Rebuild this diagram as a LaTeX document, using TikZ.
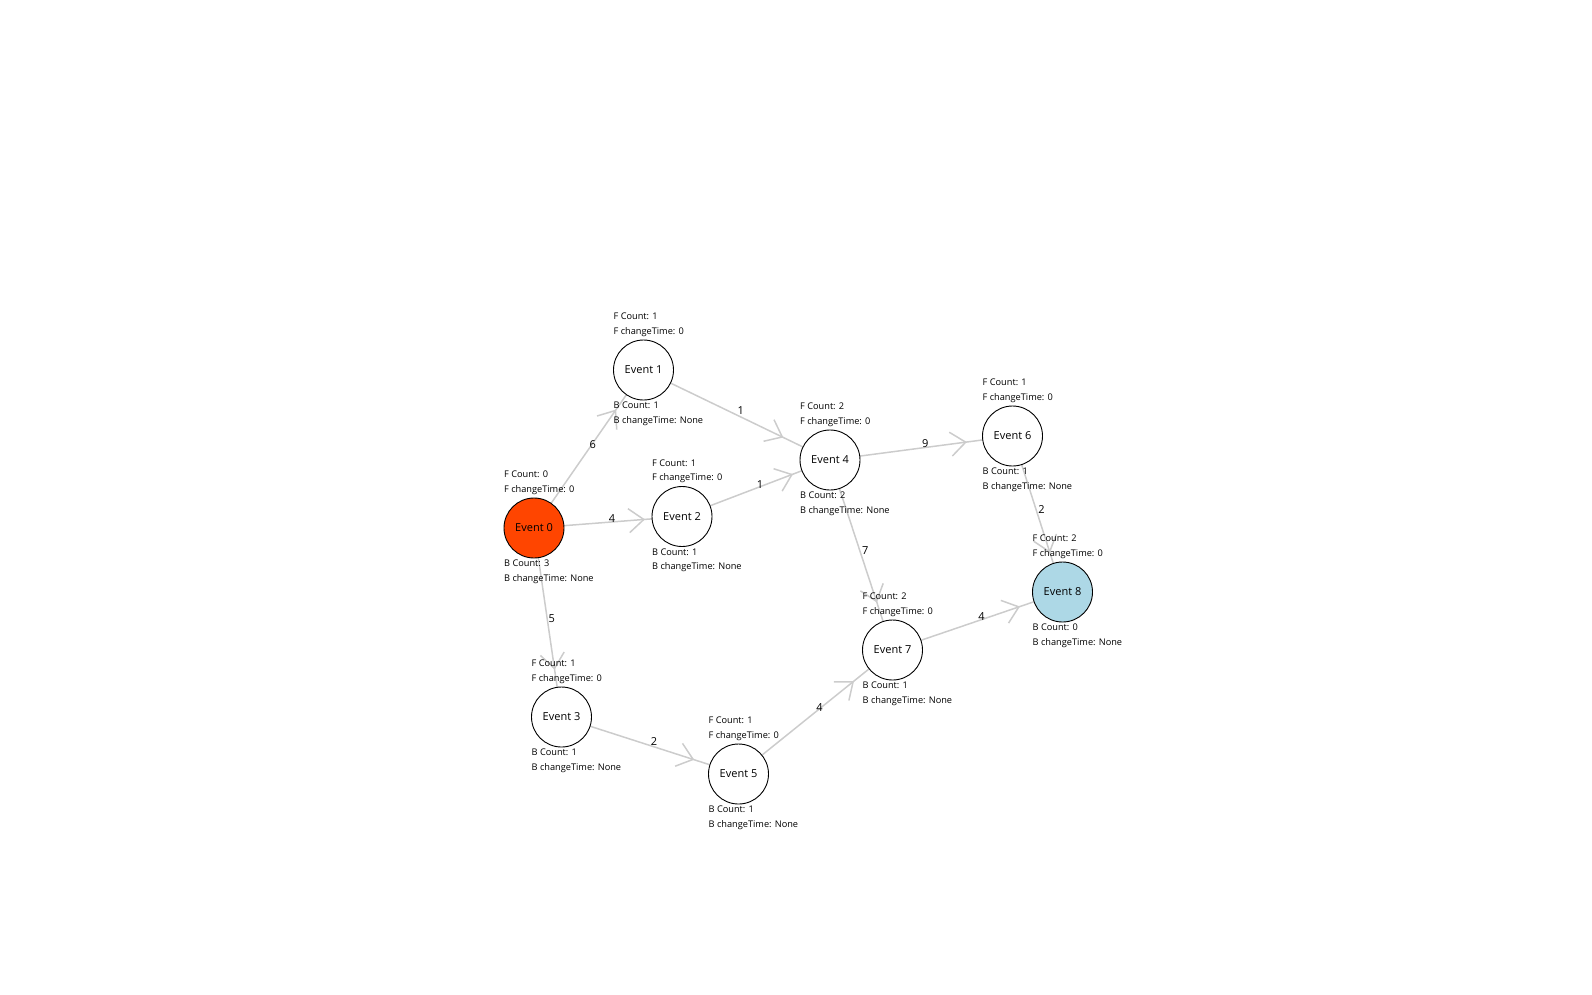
\documentclass[tikz,border=0pt]{standalone}
\usepackage{fontspec}
\setmainfont{Open Sans}
\usetikzlibrary{arrows.meta,decorations.markings,backgrounds}

\definecolor{edgegray}{HTML}{CCCCCC}
\definecolor{startred}{HTML}{FF4500}
\definecolor{endblue}{HTML}{ADD8E6}

\begin{document}
\begin{tikzpicture}[
      x=1pt, y=-1pt,
      event/.style={draw, circle, fill=white, line width=0.9pt, minimum size=60pt, inner sep=0pt, font=\fontsize{11}{12}\selectfont},
      info/.style={anchor=west, align=left, inner sep=0pt, font=\fontsize{9.2}{14.5}\selectfont},
      link/.style={draw=edgegray, line width=1.5pt, postaction={decorate},
        decoration={markings, mark=at position 0.75 with {\arrow{Straight Barb[length=15pt, width=24pt]}}}},
      weight/.style={midway, xshift=4pt, yshift=4pt, inner sep=0pt, font=\fontsize{11}{12}\selectfont}
    ]
    \useasboundingbox (0,0) rectangle (1592,994);

    % Events
    \node (ev0) [event, fill=startred] at (534,528) {Event 0};
    \node (ev1) [event] at (643.5,370) {Event 1};
    \node (ev2) [event] at (682,516.5) {Event 2};
    \node (ev3) [event] at (561.5,717) {Event 3};
    \node (ev4) [event] at (830,460) {Event 4};
    \node (ev5) [event] at (738.5,774) {Event 5};
    \node (ev6) [event] at (1012.5,436) {Event 6};
    \node (ev7) [event] at (892.5,650) {Event 7};
    \node (ev8) [event, fill=endblue] at (1062.5,592) {Event 8};

    % Forward and backward values
    \node (ev0f) [info] at (ev0) [xshift=-30pt, yshift=45pt] {F Count: 0\\F changeTime: 0};
    \node (ev0b) [info] at (ev0) [xshift=-30pt, yshift=-44pt] {B Count: 3\\B changeTime: None};
    \node (ev1f) [info] at (ev1) [xshift=-30pt, yshift=45pt] {F Count: 1\\F changeTime: 0};
    \node (ev1b) [info] at (ev1) [xshift=-30pt, yshift=-44pt] {B Count: 1\\B changeTime: None};
    \node (ev2f) [info] at (ev2) [xshift=-30pt, yshift=45pt] {F Count: 1\\F changeTime: 0};
    \node (ev2b) [info] at (ev2) [xshift=-30pt, yshift=-44pt] {B Count: 1\\B changeTime: None};
    \node (ev3f) [info] at (ev3) [xshift=-30pt, yshift=45pt] {F Count: 1\\F changeTime: 0};
    \node (ev3b) [info] at (ev3) [xshift=-30pt, yshift=-44pt] {B Count: 1\\B changeTime: None};
    \node (ev4f) [info] at (ev4) [xshift=-30pt, yshift=45pt] {F Count: 2\\F changeTime: 0};
    \node (ev4b) [info] at (ev4) [xshift=-30pt, yshift=-44pt] {B Count: 2\\B changeTime: None};
    \node (ev5f) [info] at (ev5) [xshift=-30pt, yshift=45pt] {F Count: 1\\F changeTime: 0};
    \node (ev5b) [info] at (ev5) [xshift=-30pt, yshift=-44pt] {B Count: 1\\B changeTime: None};
    \node (ev6f) [info] at (ev6) [xshift=-30pt, yshift=45pt] {F Count: 1\\F changeTime: 0};
    \node (ev6b) [info] at (ev6) [xshift=-30pt, yshift=-44pt] {B Count: 1\\B changeTime: None};
    \node (ev7f) [info] at (ev7) [xshift=-30pt, yshift=45pt] {F Count: 2\\F changeTime: 0};
    \node (ev7b) [info] at (ev7) [xshift=-30pt, yshift=-44pt] {B Count: 1\\B changeTime: None};
    \node (ev8f) [info] at (ev8) [xshift=-30pt, yshift=45pt] {F Count: 2\\F changeTime: 0};
    \node (ev8b) [info] at (ev8) [xshift=-30pt, yshift=-44pt] {B Count: 0\\B changeTime: None};

    % Weighted links, behind the events
    \begin{scope}[on background layer]
      \draw[link] (ev0.center) -- node[weight] {6} (ev1.center);
      \draw[link] (ev0.center) -- node[weight] {4} (ev2.center);
      \draw[link] (ev0.center) -- node[weight] {5} (ev3.center);
      \draw[link] (ev1.center) -- node[weight] {1} (ev4.center);
      \draw[link] (ev2.center) -- node[weight] {1} (ev4.center);
      \draw[link] (ev3.center) -- node[weight] {2} (ev5.center);
      \draw[link] (ev4.center) -- node[weight] {9} (ev6.center);
      \draw[link] (ev4.center) -- node[weight] {7} (ev7.center);
      \draw[link] (ev5.center) -- node[weight] {4} (ev7.center);
      \draw[link] (ev6.center) -- node[weight] {2} (ev8.center);
      \draw[link] (ev7.center) -- node[weight] {4} (ev8.center);
    \end{scope}
  \end{tikzpicture}
\end{document}
